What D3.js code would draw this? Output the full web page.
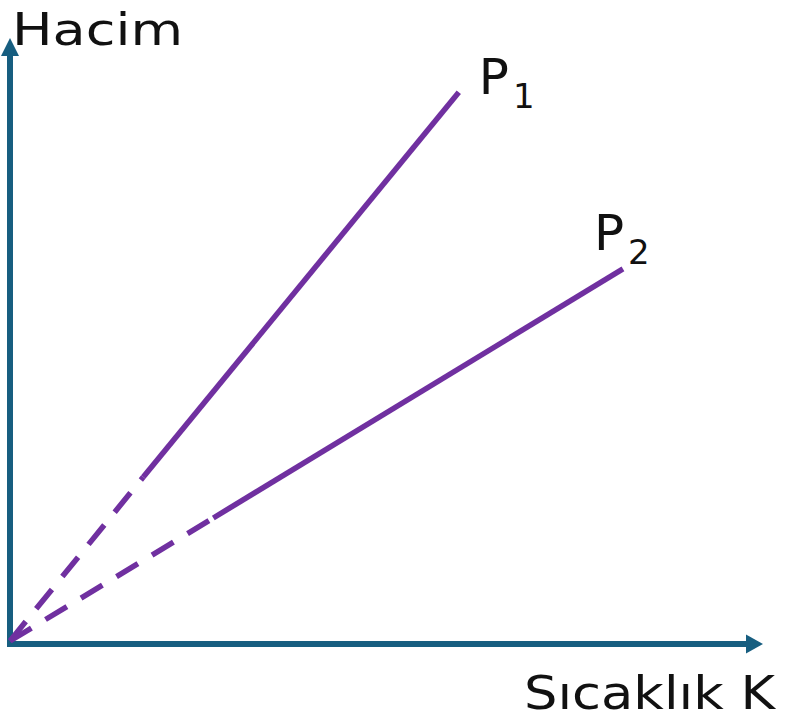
<!DOCTYPE html>
<html lang="tr">
<head>
<meta charset="UTF-8">
<title>Hacim - Sıcaklık</title>
<style>
    body { margin: 0; background: #fff; }
    svg text { font-family: "DejaVu Sans", sans-serif; fill: #111; }
</style>
</head>
<body>
<svg class="chart"></svg>
<script src="https://d3js.org/d3.v7.min.js"></script>
<script>
// data (arbitrary units, 0..100 on both axes)
var seriesNames = ['P1', 'P2'];
var dashedPart = [
    [{t: 0, v: 0}, {t: 17.7, v: 27.2}],
    [{t: 0, v: 0}, {t: 27.0, v: 20.4}]
];
var solidPart = [
    [{t: 17.7, v: 27.2}, {t: 59.6, v: 91.0}],
    [{t: 27.0, v: 20.4}, {t: 81.4, v: 61.7}]
];
var axisLabels = ['Sıcaklık K', 'Hacim'];

var width = 787, height = 721;
var axisColor = '#175e80';
var lineColor = '#7030a0';

var x = d3.scaleLinear().domain([0, 100]).range([10, 763]);
var y = d3.scaleLinear().domain([0, 100]).range([641, 38]);

var svg = d3.select('.chart')
    .attr('width', width)
    .attr('height', height);

var line = d3.line()
    .x(d => x(d.t))
    .y(d => y(d.v));

// axes
svg.append('line')
    .attr('x1', x(0)).attr('y1', y(0) + 6)
    .attr('x2', x(0)).attr('y2', y(97))
    .attr('stroke', axisColor).attr('stroke-width', 6);

svg.append('line')
    .attr('x1', x(0) - 3).attr('y1', y(0) + 3)
    .attr('x2', x(98)).attr('y2', y(0) + 3)
    .attr('stroke', axisColor).attr('stroke-width', 6);

// arrow heads
svg.append('path')
    .attr('d', `M${x(0)},${y(100)} L${x(0) + 9},${y(100) + 18} L${x(0) - 9},${y(100) + 18} Z`)
    .attr('fill', axisColor);

svg.append('path')
    .attr('d', `M${x(100)},${y(0) + 3} L${x(100) - 17},${y(0) + 3 - 9.5} L${x(100) - 17},${y(0) + 3 + 9.5} Z`)
    .attr('fill', axisColor);

// lines
svg.selectAll('.dashed')
    .data(dashedPart)
    .enter()
    .append('path')
    .attr('class', 'dashed')
    .attr('d', line)
    .attr('fill', 'none')
    .attr('stroke', lineColor)
    .attr('stroke-width', 5.5)
    .attr('stroke-dasharray', '25,16.5');

svg.selectAll('.solid')
    .data(solidPart)
    .enter()
    .append('path')
    .attr('class', 'solid')
    .attr('d', line)
    .attr('fill', 'none')
    .attr('stroke', lineColor)
    .attr('stroke-width', 5.5);

// series labels P1, P2
var labelPos = [{dx: 20, dy: 2}, {dx: -29, dy: -19}];
seriesNames.forEach(function (name, i) {
    var end = solidPart[i][1];
    var t = svg.append('text')
        .attr('x', x(end.t) + labelPos[i].dx)
        .attr('y', y(end.v) + labelPos[i].dy)
        .style('font-size', '50px');
    t.append('tspan').text(name.charAt(0));
    t.append('tspan')
        .attr('dx', 4)
        .attr('dy', 14)
        .style('font-size', '34px')
        .text(name.slice(1));
});

// axis titles
svg.append('text')
    .attr('x', 12)
    .attr('y', 45)
    .attr('textLength', 171)
    .attr('lengthAdjust', 'spacingAndGlyphs')
    .style('font-size', '45px')
    .text(axisLabels[1]);

svg.append('text')
    .attr('x', 524)
    .attr('y', 709)
    .attr('textLength', 251)
    .attr('lengthAdjust', 'spacingAndGlyphs')
    .style('font-size', '46px')
    .text(axisLabels[0]);
</script>
</body>
</html>
